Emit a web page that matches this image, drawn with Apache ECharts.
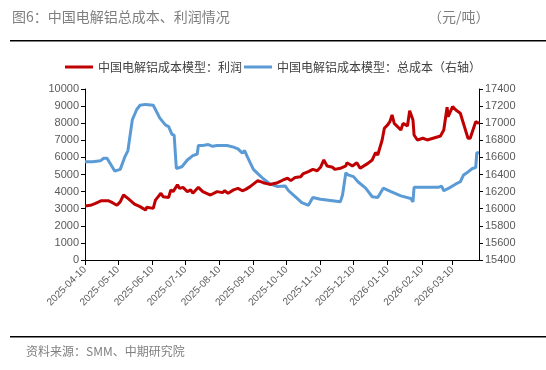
<!DOCTYPE html>
<html><head><meta charset="utf-8">
<script src="https://cdn.jsdelivr.net/npm/echarts@6/dist/echarts.min.js"></script>
<style>html,body{margin:0;padding:0;background:#fff;}#c{width:546px;height:370px;}</style>
</head><body><div id="c"></div>
<script>
var titleText = '图6：中国电解铝总成本、利润情况';
var unitText = '（元/吨）';
var sourceText = '资料来源：SMM、中期研究院';
var seriesNames = ['中国电解铝成本模型：利润', '中国电解铝成本模型：总成本（右轴）'];
var startDate = '2025-04-10', endDate = '2026-04-03';

var profitDates = ['2025-04-10','2025-04-15','2025-04-19','2025-04-25','2025-05-01','2025-05-05','2025-05-09','2025-05-12','2025-05-15','2025-05-19','2025-05-25','2025-05-30','2025-06-04','2025-06-05','2025-06-11','2025-06-13','2025-06-15','2025-06-18','2025-06-20','2025-06-25','2025-06-27','2025-06-29','2025-07-03','2025-07-05','2025-07-08','2025-07-12','2025-07-15','2025-07-17','2025-07-22','2025-07-26','2025-08-02','2025-08-08','2025-08-13','2025-08-15','2025-08-18','2025-08-23','2025-08-27','2025-08-31','2025-09-03','2025-09-07','2025-09-14','2025-09-19','2025-09-25','2025-10-02','2025-10-07','2025-10-11','2025-10-14','2025-10-18','2025-10-23','2025-10-25','2025-10-30','2025-11-03','2025-11-07','2025-11-10','2025-11-13','2025-11-16','2025-11-21','2025-11-23','2025-11-28','2025-12-03','2025-12-04','2025-12-09','2025-12-13','2025-12-16','2025-12-23','2025-12-27','2025-12-30','2026-01-01','2026-01-05','2026-01-07','2026-01-10','2026-01-12','2026-01-14','2026-01-16','2026-01-22','2026-01-24','2026-01-28','2026-01-30','2026-02-02','2026-02-03','2026-02-06','2026-02-11','2026-02-15','2026-02-27','2026-03-02','2026-03-05','2026-03-06','2026-03-10','2026-03-13','2026-03-17','2026-03-24','2026-03-26','2026-03-31','2026-04-03'];
var profitValues = [3160,3200,3300,3470,3470,3350,3200,3400,3800,3600,3270,3120,2920,3080,3020,3500,3660,3900,3700,3660,4100,4000,4390,4190,4250,4000,4100,3900,4250,4000,3800,4000,3940,4050,3900,4100,4190,4050,4130,4290,4640,4520,4420,4520,4680,4780,4640,4830,4870,5030,5170,5300,5220,5420,5850,5500,5420,5300,5360,5500,5690,5500,5690,5360,5650,5850,6280,6140,7020,7700,7900,8090,8480,7990,7600,7990,7840,8730,8190,7310,7020,7120,7020,7250,7600,8930,8380,8970,8770,8580,7120,7120,8090,7990];

var costDates = ['2025-04-10','2025-04-17','2025-04-24','2025-04-27','2025-04-30','2025-05-07','2025-05-12','2025-05-16','2025-05-19','2025-05-23','2025-05-27','2025-05-30','2025-06-04','2025-06-11','2025-06-17','2025-06-22','2025-06-25','2025-06-28','2025-06-30','2025-07-02','2025-07-07','2025-07-12','2025-07-17','2025-07-21','2025-07-22','2025-07-26','2025-07-31','2025-08-04','2025-08-08','2025-08-17','2025-08-23','2025-08-27','2025-08-31','2025-09-02','2025-09-04','2025-09-10','2025-09-14','2025-09-19','2025-09-25','2025-10-02','2025-10-09','2025-10-12','2025-10-18','2025-10-24','2025-10-30','2025-11-03','2025-11-10','2025-11-19','2025-11-28','2025-11-30','2025-12-03','2025-12-05','2025-12-10','2025-12-14','2025-12-21','2025-12-27','2026-01-01','2026-01-06','2026-01-13','2026-01-22','2026-01-31','2026-02-02','2026-02-03','2026-02-15','2026-02-25','2026-02-28','2026-03-02','2026-03-08','2026-03-13','2026-03-17','2026-03-20','2026-03-24','2026-03-28','2026-03-31','2026-04-01','2026-04-03'];
var costValues = [16550,16550,16560,16590,16590,16440,16460,16600,16680,17040,17160,17210,17220,17210,17060,16980,16960,16870,16860,16470,16490,16570,16620,16640,16740,16740,16750,16730,16740,16740,16720,16700,16650,16680,16620,16460,16410,16350,16290,16260,16265,16210,16140,16070,16040,16130,16110,16095,16080,16160,16420,16395,16375,16315,16240,16140,16130,16240,16200,16150,16120,16080,16250,16250,16250,16265,16210,16250,16290,16315,16395,16430,16470,16480,16655,16655];

var leftMin = 0, leftMax = 10000, leftStep = 1000;
var rightMin = 15400, rightMax = 17400, rightStep = 200;

function pad(n){return n<10?'0'+n:''+n;}
var categories = [];
(function(){
  var p = startDate.split('-'), e = endDate.split('-');
  var d = new Date(Date.UTC(+p[0], +p[1]-1, +p[2]));
  var end = new Date(Date.UTC(+e[0], +e[1]-1, +e[2]));
  while (d <= end) {
    categories.push(d.getUTCFullYear()+'-'+pad(d.getUTCMonth()+1)+'-'+pad(d.getUTCDate()));
    d = new Date(d.getTime()+86400000);
  }
})();
function zip(a,b){return a.map(function(x,i){return [x,b[i]];});}
function isTenth(idx, val){return /-10$/.test(val || categories[idx]);}
function plain(v){return String(v);}

var font = '"Noto Sans CJK SC", "Noto Sans", sans-serif';
var numFont = 'Arial, "Liberation Sans", sans-serif';
var chart = echarts.init(document.getElementById('c'), null, {renderer:'canvas'});
chart.setOption({
  animation:false,
  backgroundColor:'#fff',
  textStyle:{fontFamily:font},
  graphic:[
    {type:'text', left:12, top:10, style:{text:titleText, fill:'#7f7f7f', font:'14px '+font}},
    {type:'text', left:428, top:10, style:{text:unitText, fill:'#7f7f7f', font:'14px '+font}},
    {type:'rect', shape:{x:10, y:40, width:536, height:1.5}, style:{fill:'#000'}},
    {type:'rect', shape:{x:10, y:336, width:536, height:1.5}, style:{fill:'#000'}},
    {type:'text', left:26, top:345, style:{text:sourceText, fill:'#7f7f7f', font:'12px '+font}}
  ],
  legend:{
    top:56, left:'center', itemWidth:28, itemHeight:3, itemGap:2,
    textStyle:{fontSize:12, color:'#404040', fontFamily:font},
    icon:'rect',
    data:seriesNames
  },
  grid:{left:85, right:67, top:89, bottom:110, containLabel:false},
  xAxis:{
    type:'category', data:categories, boundaryGap:false,
    axisLine:{lineStyle:{color:'#000', width:1}},
    axisTick:{interval:isTenth, length:5, lineStyle:{color:'#000'}},
    axisLabel:{interval:isTenth, rotate:45, fontSize:10, color:'#595959', margin:8, fontFamily:numFont},
    splitLine:{show:false}
  },
  yAxis:[
    {type:'value', min:leftMin, max:leftMax, interval:leftStep,
     axisLine:{show:true, lineStyle:{color:'#000'}},
     axisTick:{show:true, length:4, lineStyle:{color:'#000'}},
     axisLabel:{fontSize:11, color:'#595959', margin:6, fontFamily:numFont, formatter:plain},
     splitLine:{show:false}},
    {type:'value', min:rightMin, max:rightMax, interval:rightStep, position:'right',
     axisLine:{show:true, lineStyle:{color:'#000'}},
     axisTick:{show:true, length:4, lineStyle:{color:'#000'}},
     axisLabel:{fontSize:11, color:'#595959', margin:6, fontFamily:numFont, formatter:plain},
     splitLine:{show:false}}
  ],
  series:[
    {name:seriesNames[0], type:'line', yAxisIndex:0, data:zip(profitDates, profitValues),
     showSymbol:false, symbol:'none', lineStyle:{color:'#C00000', width:3}, itemStyle:{color:'#C00000'}, z:3},
    {name:seriesNames[1], type:'line', yAxisIndex:1, data:zip(costDates, costValues),
     showSymbol:false, symbol:'none', lineStyle:{color:'#5B9BD5', width:3}, itemStyle:{color:'#5B9BD5'}, z:2}
  ]
});
</script></body></html>
